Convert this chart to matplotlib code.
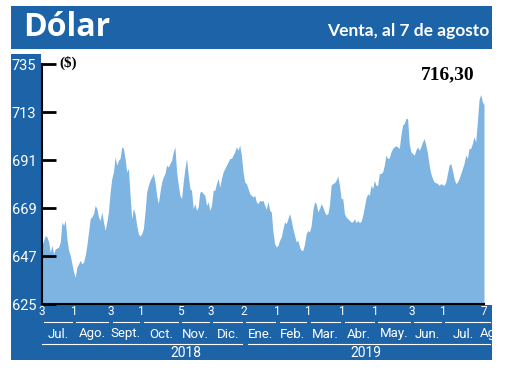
import numpy as np
import pandas as pd
import matplotlib
matplotlib.use("Agg")
import matplotlib.pyplot as plt
from matplotlib import font_manager
from matplotlib.patches import Rectangle

# dollar sell rate (3 Jul 2018 -> 7 Aug 2019)
values = [
    651.9, 654.2, 656.4, 655.7, 653.4, 648.8, 651.9, 648.0, 650.3, 650.6,
    651.1, 653.4, 662.6, 661.0, 663.4, 654.9, 649.6, 647.3, 643.4, 639.6,
    637.3, 641.9, 643.4, 645.0, 643.4, 644.2, 647.3, 651.9, 658.0, 664.1,
    664.9, 666.4, 670.2, 668.7, 664.9, 663.3, 667.2, 662.6, 658.7, 662.6,
    667.2, 676.3, 682.5, 685.5, 692.4, 688.6, 690.9, 691.7, 697.0, 696.3,
    691.7, 685.5, 687.1, 674.8, 664.1, 668.7, 666.4, 661.0, 657.2, 656.1,
    657.2, 659.5, 667.2, 676.3, 679.4,
    681.7, 683.2, 684.8, 680.9, 674.8, 671.0, 676.3, 680.9, 683.2, 684.8,
    688.6, 687.8, 689.4, 690.9, 694.7, 697.0, 685.5, 679.7, 674.8, 673.3,
    680.9, 687.1, 691.7, 684.0, 677.9, 677.1, 668.7, 671.0, 667.9, 669.5,
    676.3, 676.6, 675.6, 674.8, 670.2, 671.8, 667.9, 670.2, 677.1, 677.1,
    680.2, 682.5, 678.6, 682.5, 685.5, 687.1, 688.6, 690.1, 691.7, 691.7,
    693.2, 694.7, 697.0, 695.5, 697.8, 693.2, 685.5, 680.9, 680.2, 677.9,
    675.6, 674.8, 674.0, 674.8, 671.8, 671.0,
    672.5, 672.1, 672.5, 670.2, 668.4, 672.1, 667.9, 667.2, 658.0, 652.6,
    651.1, 651.9, 654.2, 655.7, 659.5, 662.6, 661.8, 664.1, 666.4, 663.3,
    659.5, 656.4, 653.4, 654.2, 651.1, 649.6, 649.6, 652.6, 657.2, 658.7,
    658.0, 661.0, 667.9, 671.8, 671.0, 667.2, 668.7, 671.0, 669.5, 667.2,
    665.9, 666.4, 670.2, 679.4, 680.2, 680.6, 681.7, 683.7, 679.4, 673.3,
    673.3, 666.4, 664.9, 664.1, 663.3, 662.6, 662.6, 664.1, 662.3, 663.3,
    662.3, 662.9, 665.6, 669.5, 673.6, 675.6,
    674.8, 679.4, 677.9, 681.7, 679.4, 679.4, 684.8, 684.8, 685.5, 688.6,
    693.2, 691.7, 692.0, 694.7, 696.3, 697.0, 697.5, 697.0, 696.3, 702.4,
    707.0, 707.7, 710.0, 710.0, 698.6, 694.7, 694.0, 693.2, 695.5, 697.0,
    695.5, 697.0, 699.3, 700.8, 697.8, 694.0, 688.6, 684.8, 682.5, 680.9,
    680.6, 680.2, 679.4, 680.2, 679.7, 679.4, 680.9, 684.8, 688.6, 689.4,
    686.3, 682.5, 680.2, 680.9, 682.5, 684.8, 687.1, 689.4, 693.2, 691.7,
    696.3, 696.3, 698.6, 701.6, 699.3, 708.5, 718.5, 721.1, 717.7, 716.3,
]
start_date, end_date = "2018-07-03", "2019-08-07"

tick_dates = ["2018-07-03", "2018-08-01", "2018-09-03", "2018-10-01", "2018-11-05",
              "2018-12-03", "2019-01-02", "2019-02-01", "2019-03-01", "2019-04-01",
              "2019-05-01", "2019-06-03", "2019-07-01", "2019-08-07"]
tick_labels = ["3", "1", "3", "1", "5", "3", "2", "1", "1", "1", "1", "3", "1", "7"]
month_labels = ["Jul.", "Ago.", "Sept.", "Oct.", "Nov.", "Dic.", "Ene.", "Feb.",
                "Mar.", "Abr.", "May.", "Jun.", "Jul.", "Ago"]
year_labels = ["2018", "2019"]
year_label_dates = ["2018-11-10", "2019-04-22"]
year_spans = [("2018-07-03", "2018-12-31"), ("2019-01-05", "2019-08-12")]
y_ticks = [625, 647, 669, 691, 713, 735]
last_label = "716,30"
last_label_y = 730

BLUE = "#1d63a8"
FILL = "#7db4e2"
W, H = 520, 390

names = {f.name for f in font_manager.fontManager.ttflist}
narrow = "Liberation Sans Narrow" if "Liberation Sans Narrow" in names else "Roboto"
serif = "Liberation Serif"

dates = pd.date_range(start_date, end_date, periods=len(values))
tdates = pd.to_datetime(tick_dates)

fig = plt.figure(figsize=(W / 100, H / 100), dpi=100)


def px_rect(x0, y0, x1, y1, color):
    # rectangle given in pixel coords (origin top-left)
    fig.patches.append(Rectangle((x0 / W, 1 - y1 / H), (x1 - x0) / W, (y1 - y0) / H,
                                 transform=fig.transFigure, color=color, lw=0, zorder=-5))


px_rect(11, 6, 492, 49, BLUE)      # header
px_rect(11, 54, 41, 360, BLUE)     # y label band
px_rect(11, 305, 492, 360, BLUE)   # x label band

fig.text(23 / W, 1 - 27 / H, "Dólar", color="white", fontsize=23, fontweight="bold",
         family="Open Sans", va="center", ha="left")
fig.text(489 / W, 1 - 31 / H, "Venta, al 7 de agosto", color="white", fontsize=12.5,
         fontweight="bold", family="Lato", va="center", ha="right")

ax = fig.add_axes([42 / W, 1 - 304 / H, 442 / W, 240 / H], zorder=2)
ax.set_facecolor("none")
ax.fill_between(dates, values, y_ticks[0], color=FILL, lw=0)
ax.set_xlim(dates[0], dates[-1])
ax.set_ylim(y_ticks[0], y_ticks[-1])

for s in ["top", "right"]:
    ax.spines[s].set_visible(False)
ax.spines["left"].set_linewidth(1.5)
ax.spines["bottom"].set_linewidth(1.5)

ax.set_yticks(y_ticks)
ax.set_yticklabels([str(v) for v in y_ticks], family=narrow, fontsize=10.5, color="white")
ax.tick_params(axis="y", direction="in", length=10, width=2, pad=4)

ax.set_xticks(tdates)
ax.set_xticklabels(tick_labels, family=narrow, fontsize=8.5, color="white")
ax.tick_params(axis="x", length=0, pad=1)
# small end mark on the bottom axis
ax.set_xticks([dates[-1]], minor=True)
ax.tick_params(axis="x", which="minor", direction="in", length=6, width=1.5)

tr = ax.get_xaxis_transform()


def ay(py):
    # pixel row -> axes fraction
    return (304 - py) / 240


gap = pd.Timedelta(days=2)
seg_y = ay(322)
for i in range(len(tdates) - 1):
    ax.plot([tdates[i] + gap, tdates[i + 1] - gap], [seg_y, seg_y], transform=tr,
            color="white", lw=0.8, clip_on=False)
ax.plot([tdates[-1] - pd.Timedelta(days=4), tdates[-1] + pd.Timedelta(days=5)],
        [seg_y, seg_y], transform=tr, color="white", lw=0.8, clip_on=False)

for i, lab in enumerate(month_labels):
    if i < len(tdates) - 1:
        mid = tdates[i] + (tdates[i + 1] - tdates[i]) / 2
        ha = "center"
    else:
        mid = tdates[i] - pd.Timedelta(days=4)
        ha = "left"
    ax.text(mid, ay(334), lab, transform=tr, ha=ha, va="center",
            color="white", fontsize=9.5, family=narrow, clip_on=False)

for (a, b), lab, d in zip(year_spans, year_labels, year_label_dates):
    ax.plot([pd.Timestamp(a), pd.Timestamp(b)], [ay(344), ay(344)], transform=tr,
            color="white", lw=0.8, clip_on=False)
    ax.text(pd.Timestamp(d), ay(353), lab, transform=tr, ha="center", va="center",
            color="white", fontsize=10, family=narrow, clip_on=False)

ax.text(0.04, ay(63), "($)", transform=ax.transAxes, ha="left", va="center",
        fontsize=11, fontweight="bold", family=serif)
ax.annotate(last_label, xy=(dates[-1], last_label_y), xycoords="data",
            xytext=(-9, 0), textcoords="offset pixels", ha="right", va="center",
            fontsize=14, fontweight="bold", family=serif)

fig.savefig("out.png", dpi=100)
